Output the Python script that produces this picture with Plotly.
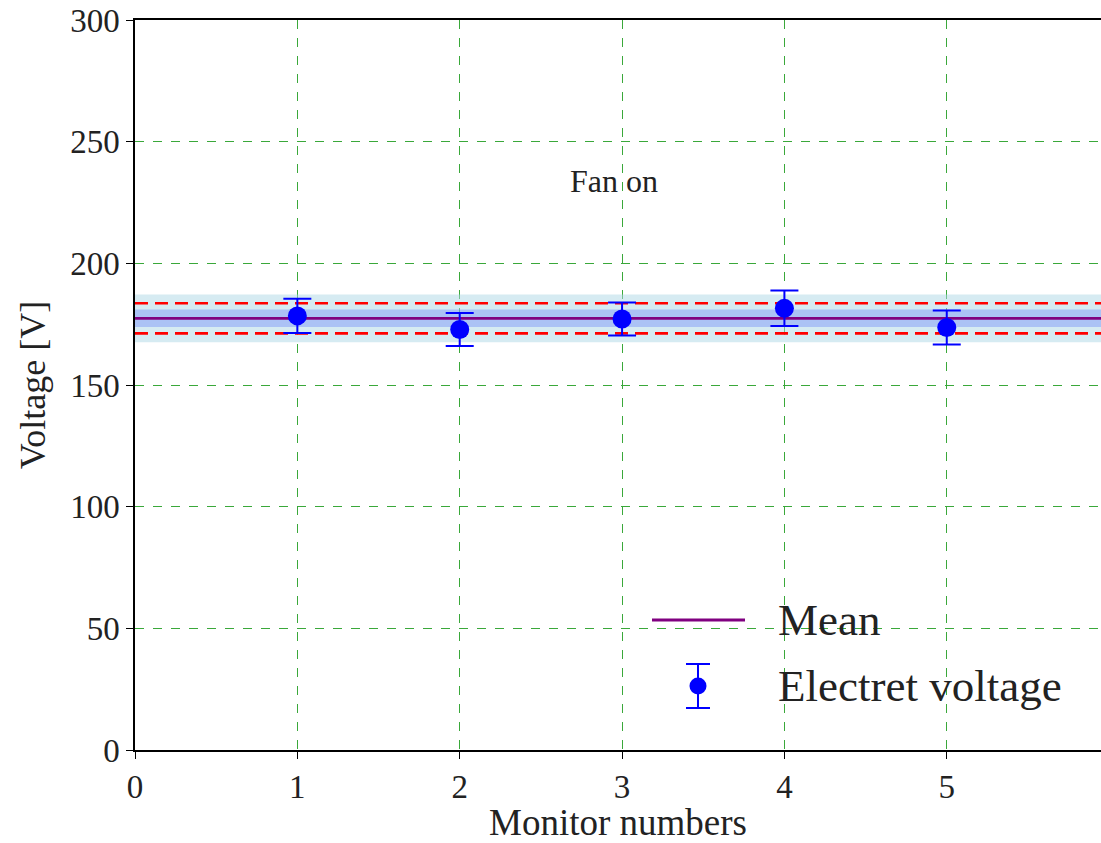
import plotly.graph_objects as go

# ---- data ----
monitors = [1, 2, 3, 4, 5]
voltages = [178.4, 172.8, 177.1, 181.5, 173.6]
errors = [7.0, 6.8, 6.8, 7.3, 7.0]

mean_v = 177.4
inner_half = 3.6     # darker band half width
dashed_half = 6.2    # red dashed lines offset
outer_half = 9.8     # light band half width

x_ticks = [0, 1, 2, 3, 4, 5]
y_ticks = [0, 50, 100, 150, 200, 250, 300]
x_range = [0, 5.95]
y_range = [0, 300]
x_span = [0, 6]

FONT = "Liberation Serif"

fig = go.Figure()

# outer light band
fig.add_trace(go.Scatter(x=x_span, y=[mean_v - outer_half] * 2, mode="lines",
                         line=dict(width=0), showlegend=False, hoverinfo="skip"))
fig.add_trace(go.Scatter(x=x_span, y=[mean_v + outer_half] * 2, mode="lines",
                         line=dict(width=0), fill="tonexty",
                         fillcolor="rgba(173,216,230,0.5)", showlegend=False, hoverinfo="skip"))
# inner band
fig.add_trace(go.Scatter(x=x_span, y=[mean_v - inner_half] * 2, mode="lines",
                         line=dict(width=0), showlegend=False, hoverinfo="skip"))
fig.add_trace(go.Scatter(x=x_span, y=[mean_v + inner_half] * 2, mode="lines",
                         line=dict(width=0), fill="tonexty",
                         fillcolor="rgba(60,90,255,0.28)", showlegend=False, hoverinfo="skip"))
# red dashed lines
for s in (-1, 1):
    fig.add_trace(go.Scatter(x=x_span, y=[mean_v + s * dashed_half] * 2, mode="lines",
                             line=dict(color="red", width=2.6, dash="13px,7px"),
                             showlegend=False, hoverinfo="skip"))
# mean line
fig.add_trace(go.Scatter(x=x_span, y=[mean_v] * 2, mode="lines",
                         line=dict(color="purple", width=2.6), name="Mean", showlegend=False))
# data points
fig.add_trace(go.Scatter(x=monitors, y=voltages, mode="markers",
                         marker=dict(color="blue", size=19),
                         error_y=dict(type="data", array=errors, color="blue",
                                      thickness=2, width=14),
                         name="Electret voltage", showlegend=False))

# annotation
fig.add_annotation(x=2.95, y=234, xref="x", yref="y", text="Fan on", showarrow=False,
                   font=dict(family=FONT, size=32, color="#222"))

# ---- custom legend (paper coords) ----
L, R, T, B = 135, 1101, 20, 750
def px(xp):
    return (xp - L) / (R - L)
def py(yp):
    return (B - yp) / (B - T)

fig.add_shape(type="line", xref="paper", yref="paper",
              x0=px(652), x1=px(745), y0=py(620), y1=py(620),
              line=dict(color="purple", width=3))
fig.add_shape(type="line", xref="paper", yref="paper",
              x0=px(698), x1=px(698), y0=py(664), y1=py(708),
              line=dict(color="blue", width=2))
for cy in (664, 708):
    fig.add_shape(type="line", xref="paper", yref="paper",
                  x0=px(686), x1=px(710), y0=py(cy), y1=py(cy),
                  line=dict(color="blue", width=2))
fig.add_shape(type="circle", xref="paper", yref="paper",
              xsizemode="pixel", ysizemode="pixel",
              xanchor=px(698), yanchor=py(686),
              x0=-8.5, x1=8.5, y0=-8.5, y1=8.5,
              fillcolor="blue", line=dict(color="blue", width=0))
for txt, cy in (("Mean", 620), ("Electret voltage", 686)):
    fig.add_annotation(x=px(776), y=py(cy), xref="paper", yref="paper",
                       xanchor="left", yanchor="middle", text=txt, showarrow=False,
                       font=dict(family=FONT, size=45, color="#222"))

axis_common = dict(
    showline=True, linecolor="black", linewidth=1.5,
    ticks="outside", ticklen=7, tickwidth=1.2, tickcolor="black",
    showgrid=True, gridcolor="#3aa83a", gridwidth=1, griddash="dash",
    zeroline=False,
    tickfont=dict(family=FONT, size=33, color="#222"),
)

fig.update_xaxes(range=x_range, tickvals=x_ticks, mirror=True,
                 title=dict(text="Monitor numbers", font=dict(family=FONT, size=37, color="#222"),
                            standoff=10),
                 **axis_common)
fig.update_yaxes(range=y_range, tickvals=y_ticks, mirror=False,
                 title=dict(text="Voltage [V]", font=dict(family=FONT, size=36, color="#222"),
                            standoff=14),
                 **axis_common)

fig.update_layout(
    width=1101, height=843,
    margin=dict(l=135, r=0, t=20, b=93, autoexpand=False),
    plot_bgcolor="white", paper_bgcolor="white",
    showlegend=False,
)

fig.write_html("out.html")
